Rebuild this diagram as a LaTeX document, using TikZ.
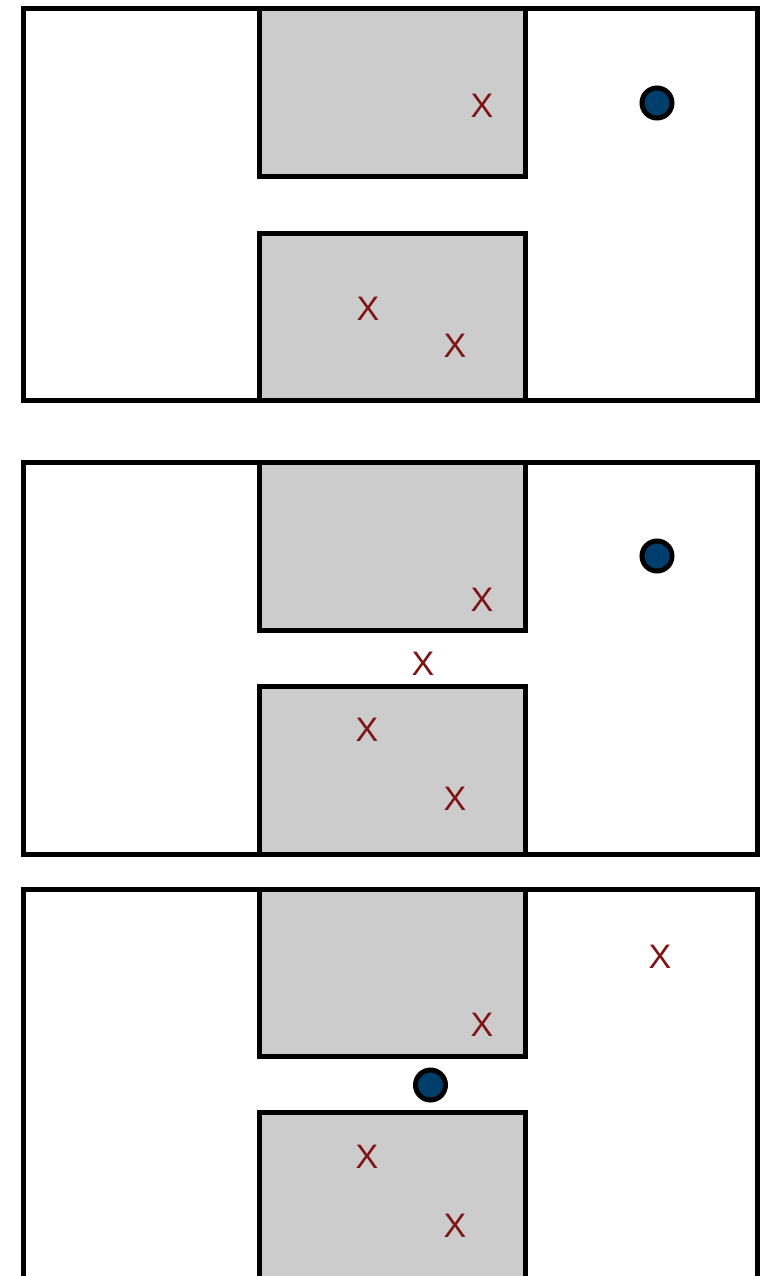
\documentclass[tikz,border=0pt]{standalone}
\usepackage{fontspec}
\setmainfont{Liberation Sans}
\begin{document}
\begin{tikzpicture}[x=1pt,y=-1pt,
  frame/.style={draw=black,line width=5pt,fill=white},
  block/.style={draw=black,line width=5pt,fill=graybox},
  xmark/.style={text=xred,font=\fontsize{34}{40}\selectfont,inner sep=0pt},
  ball/.style={circle,draw=black,line width=5pt,fill=ballblue,minimum size=30pt,inner sep=0pt}]
\definecolor{graybox}{HTML}{CCCCCC}
\definecolor{xred}{HTML}{7F1414}
\definecolor{ballblue}{HTML}{003F6B}
\useasboundingbox (0,0) rectangle (762,1276);
\clip (0,0) rectangle (762,1276);
% panel 1
\draw[frame] (23.5,9) rectangle (757,400.5);
\draw[block] (259,9) rectangle (525,177);
\draw[block] (259,233) rectangle (525,400.5);
\node[xmark] (a1) at (482,106) {X};
\node[xmark] (a2) at (368,309) {X};
\node[xmark] (a3) at (455,346) {X};
\node[ball] (b1) at (657,103) {};
% panel 2
\draw[frame] (23.5,462.5) rectangle (757,854);
\draw[block] (259,462.5) rectangle (525,630);
\draw[block] (259,686) rectangle (525,854);
\node[xmark] (c1) at (482,600) {X};
\node[xmark] (c2) at (423,664) {X};
\node[xmark] (c3) at (367,730) {X};
\node[xmark] (c4) at (455,799) {X};
\node[ball] (b2) at (657,556) {};
% panel 3
\draw[frame] (23.5,889) rectangle (757,1320);
\draw[block] (259,889) rectangle (525,1056);
\draw[block] (259,1112) rectangle (525,1320);
\node[xmark] (d1) at (660,957) {X};
\node[xmark] (d2) at (482,1025) {X};
\node[xmark] (d3) at (367,1157) {X};
\node[xmark] (d4) at (455,1226) {X};
\node[ball] (b3) at (430.5,1085) {};
\end{tikzpicture}
\end{document}
